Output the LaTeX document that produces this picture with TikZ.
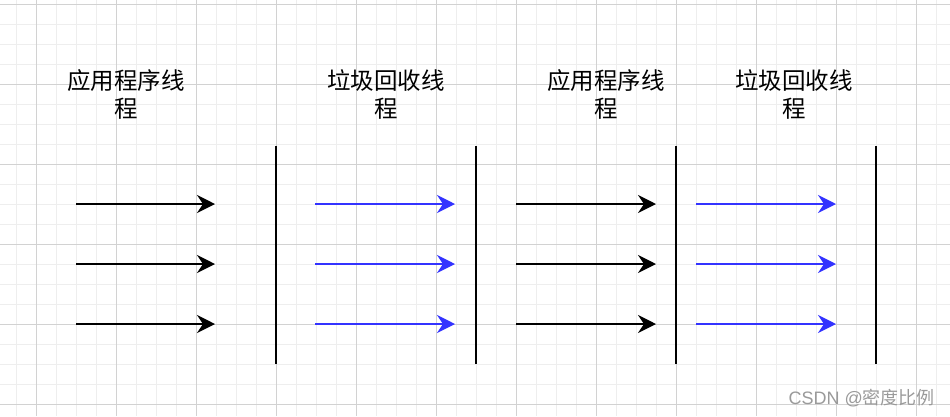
\documentclass[tikz,border=0pt]{standalone}
\usepackage{fontspec}
\setmainfont{Liberation Sans}
\newfontfamily\cjk{Noto Sans CJK SC}
\usepackage{tikz}
\usetikzlibrary{arrows.meta}
\definecolor{gcBlue}{HTML}{3333FF}
\definecolor{gridMinor}{HTML}{EEEEEE}
\definecolor{gridMajor}{HTML}{D2D2D2}
\definecolor{wmGray}{HTML}{9A9A9A}
\tikzset{
  appflow/.style={-{Stealth[length=18pt,width=18pt,inset=6pt]}, line width=2pt, draw=black, fill=black},
  gcflow/.style={appflow, draw=gcBlue, fill=gcBlue},
  pause/.style={line width=2pt, draw=black},
  title/.style={
    align=center,
    inner sep=0pt,
    font=\cjk\fontsize{23.5}{28}\selectfont
  },
  watermark/.style={
    inner sep=0pt,
    text=wmGray,
    font=\fontsize{18}{20}\selectfont
  }
}

\begin{document}
\begin{tikzpicture}[x=1pt, y=-1pt]

\useasboundingbox (0,0) rectangle (950,416);
\fill[white] (0,0) rectangle (950,416);

% background grid
\foreach \gx in {16,36,...,950} \draw[gridMinor, line width=1pt] (\gx,0) -- (\gx,416);
\foreach \gy in {4,24,...,416} \draw[gridMinor, line width=1pt] (0,\gy) -- (950,\gy);
\foreach \gx in {36,116,...,950} \draw[gridMajor, line width=1pt] (\gx,0) -- (\gx,416);
\foreach \gy in {4,84,...,416} \draw[gridMajor, line width=1pt] (0,\gy) -- (950,\gy);

% titles
\node[title] (app1) at (126,94) {应用程序线\\程};
\node[title] (gc1) at (386,94) {垃圾回收线\\程};
\node[title] (app2) at (606,94) {应用程序线\\程};
\node[title] (gc2) at (794,94) {垃圾回收线\\程};

% pauses
\foreach \px/\n in {276/1,476/2,676/3,876/4} {
  \coordinate (top\n) at (\px,146);
  \coordinate (bot\n) at (\px,364);
  \draw[pause] (top\n) -- (bot\n);
}

% threads
\foreach \ry/\r in {204/1,264/2,324/3} {
  \coordinate (as\r) at (76,\ry);
  \coordinate (ae\r) at (215,\ry);
  \coordinate (gs\r) at (315,\ry);
  \coordinate (ge\r) at (455,\ry);
  \coordinate (bs\r) at (516,\ry);
  \coordinate (be\r) at (656,\ry);
  \coordinate (hs\r) at (696,\ry);
  \coordinate (he\r) at (836,\ry);
  \draw[appflow] (as\r) -- (ae\r);
  \draw[gcflow] (gs\r) -- (ge\r);
  \draw[appflow] (bs\r) -- (be\r);
  \draw[gcflow] (hs\r) -- (he\r);
}

\node[watermark, anchor=east] (wm) at (935,398) {CSDN @{\cjk 密度比例}};

\end{tikzpicture}
\end{document}
